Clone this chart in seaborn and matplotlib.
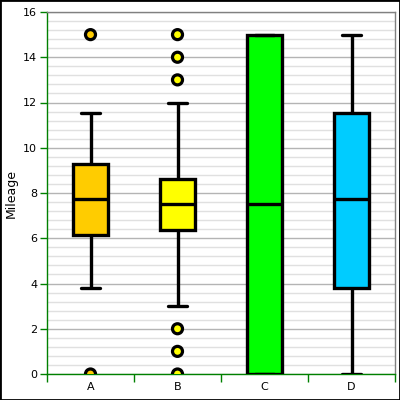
"""
Box plot of mileage for four groups (A-D), with outliers drawn on top.
"""

import pandas as pd
import matplotlib.pyplot as plt
import matplotlib.patches as patches
from matplotlib.ticker import MultipleLocator, FixedLocator
import seaborn as sns


# ----------------------------------------------------
# Data (five-number summary per group)
# ----------------------------------------------------
groups = ["A", "B", "C", "D"]
whisker_low = [3.8, 3.0, 0.0, 0.0]
q1 = [6.15, 6.35, 0.0, 3.8]
median = [7.75, 7.5, 7.5, 7.75]
q3 = [9.3, 8.6, 15.0, 11.55]
whisker_high = [11.55, 12.0, 15.0, 15.0]

outlier_groups = ["A", "A", "B", "B", "B", "B", "B", "B"]
outlier_values = [15, 0, 15, 14, 13, 2, 1, 0]

colors = ["#FFCC00", "#FFFF00", "#00FF00", "#00CCFF"]


def main():
    sns.set_theme(style="white")
    plt.rcParams["font.family"] = ["DejaVu Sans"]

    # whis=(0, 100) makes whiskers reach min/max of the five numbers
    rows = []
    for i, g in enumerate(groups):
        for v in (whisker_low[i], q1[i], median[i], q3[i], whisker_high[i]):
            rows.append({"group": g, "mileage": v})
    box_df = pd.DataFrame(rows)
    out_df = pd.DataFrame({"group": outlier_groups, "mileage": outlier_values})
    palette = dict(zip(groups, colors))

    fig = plt.figure(figsize=(4, 4), dpi=100)
    ax = fig.add_axes([47 / 400, 26 / 400, 348 / 400, 362 / 400])

    line_kw = {"color": "black", "linewidth": 2.4}
    sns.boxplot(
        data=box_df, x="group", y="mileage", hue="group", palette=palette,
        order=groups, hue_order=groups, legend=False, saturation=1,
        whis=(0, 100), showfliers=False, width=0.4, ax=ax,
        boxprops={"edgecolor": "black", "linewidth": 2.4},
        whiskerprops=line_kw, capprops=line_kw, medianprops=line_kw,
        capwidths=0.22, zorder=3,
    )

    # points sitting on 0 get cut in half by the plot edge (default clipping)
    sns.scatterplot(
        data=out_df, x="group", y="mileage", hue="group", palette=palette,
        hue_order=groups, legend=False, s=52, edgecolor="black",
        linewidth=2.3, zorder=4, ax=ax,
    )

    # Axes limits and grid
    ax.set_xlim(-0.5, 3.5)
    ax.set_ylim(0, 16)
    ax.yaxis.set_major_locator(MultipleLocator(2))
    ax.yaxis.set_minor_locator(MultipleLocator(0.4))
    ax.grid(True, axis="y", which="major", color="#b4b4b4", linewidth=1)
    ax.grid(True, axis="y", which="minor", color="#e0e0e0", linewidth=1)
    ax.set_axisbelow(True)

    # Ticks: x ticks sit on the group boundaries
    ax.xaxis.set_minor_locator(FixedLocator([-0.5, 0.5, 1.5, 2.5, 3.5]))
    ax.tick_params(axis="x", which="major", bottom=True, length=0,
                   labelsize=8, pad=6, labelcolor="black")
    ax.tick_params(axis="x", which="minor", bottom=True, length=6, width=1,
                   color="#008000", direction="out")
    ax.tick_params(axis="y", which="major", left=True, length=5, width=1,
                   color="#008000", direction="out", labelsize=8, pad=2,
                   labelcolor="black")
    ax.tick_params(axis="y", which="minor", left=False, length=0)

    for side in ("left", "bottom"):
        ax.spines[side].set_color("#008000")
        ax.spines[side].set_linewidth(1)
    for side in ("top", "right"):
        ax.spines[side].set_color("#808080")
        ax.spines[side].set_linewidth(1)

    ax.set_xlabel("")
    ax.set_ylabel("Mileage", fontsize=9, labelpad=4, color="black")

    # Black frame around the whole picture
    fig.patches.append(patches.Rectangle(
        (0, 0), 1, 1, transform=fig.transFigure, fill=False,
        edgecolor="black", linewidth=2, zorder=10))

    fig.savefig("out.png", dpi=100)
    plt.close(fig)


if __name__ == "__main__":
    main()
